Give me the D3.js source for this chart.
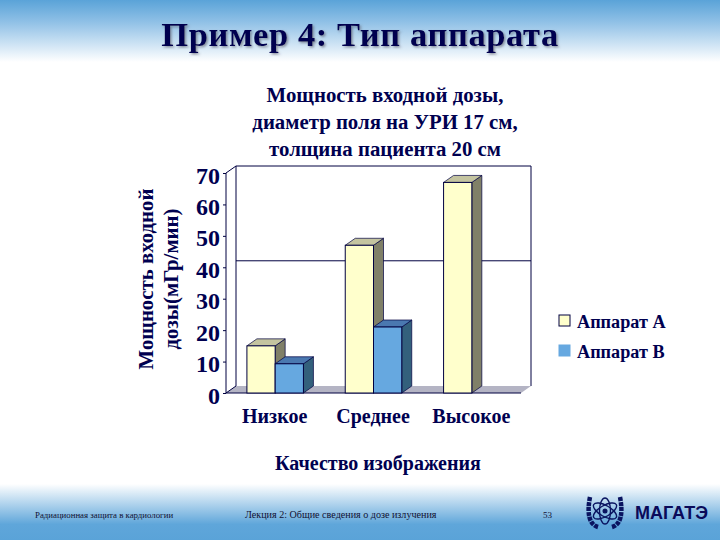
<!DOCTYPE html>
<html><head><meta charset="utf-8">
<script src="https://cdn.jsdelivr.net/npm/d3@7"></script>
<style>html,body{margin:0;padding:0;background:#fff}svg{display:block}text{font-family:"Liberation Serif",serif;font-weight:bold;fill:#000050}</style>
</head><body><div id="c"></div>
<script>
const categories = ["Низкое", "Среднее", "Высокое"];
const seriesNames = ["Аппарат А", "Аппарат В"];
const apparatA = [15, 47, 67];
const apparatB = [9.3, 21, null];
const gridValues = [40];
const yTicks = [0, 10, 20, 30, 40, 50, 60, 70];
const slideTitle = "Пример 4: Тип аппарата";
const chartTitle = ["Мощность входной дозы,", "диаметр поля на УРИ 17 см,", "толщина пациента 20 см"];
const yTitle = ["Мощность входной", "дозы(мГр/мин)"];
const xTitle = "Качество изображения";
const footer = ["Радиационная защита в кардиологии", "Лекция 2: Общие сведения о дозе излучения", "53"];
const orgName = "МАГАТЭ";

const W = 720, H = 540, dx = 10, dy = 7;
const svg = d3.select("#c").append("svg").attr("width", W).attr("height", H);
const defs = svg.append("defs");
function grad(id, stops) {
  const g = defs.append("linearGradient").attr("id", id).attr("x1", 0).attr("x2", 0).attr("y1", 0).attr("y2", 1);
  stops.forEach(s => g.append("stop").attr("offset", s[0]).attr("stop-color", s[1]));
}
grad("gt", [[0, "#5aa3d8"], [0.35, "#8fc0e6"], [1, "#ffffff"]]);
grad("gb", [[0, "#ffffff"], [0.72, "#5fa6da"], [1, "#5aa3d8"]]);
defs.append("filter").attr("id", "sh").attr("x", "-5%").attr("y", "-20%").attr("width", "110%").attr("height", "140%")
  .append("feDropShadow").attr("dx", 1.5).attr("dy", 1.5).attr("stdDeviation", 0.8).attr("flood-color", "#556").attr("flood-opacity", 0.6);

svg.append("rect").attr("width", W).attr("height", 62).attr("fill", "url(#gt)");
svg.append("rect").attr("y", 484).attr("width", W).attr("height", 56).attr("fill", "url(#gb)");

svg.append("text").attr("x", 360).attr("y", 46).attr("text-anchor", "middle").attr("font-size", 34.5)
  .attr("letter-spacing", 0.6).attr("filter", "url(#sh)").text(slideTitle);

svg.selectAll(".ct").data(chartTitle).join("text").attr("x", 385).attr("y", (d, i) => 102 + i * 27)
  .attr("text-anchor", "middle").attr("font-size", 20.8).text(d => d);

const y = d3.scaleLinear().domain([0, 70]).range([393, 173]);
const x0 = d3.scaleBand().domain(categories).range([226, 521]);
const x1 = d3.scaleBand().domain(seriesNames).range([0, x0.bandwidth()]).paddingOuter(0.74).paddingInner(0);

const line = "#000040";
const L = x0.range()[0], R = x0.range()[1];
const plot = svg.append("g");
plot.append("path").attr("d", `M${L},${y(0)}L${L + dx},${y(0) - dy}H${R + dx}L${R},${y(0)}Z`).attr("fill", "#b4b4c4");
plot.append("path").attr("fill", "none").attr("stroke", line).attr("stroke-width", 1)
  .attr("d", `M${L},${y(0)}V${y(70)}L${L + dx},${y(70) - dy}H${R + dx}V${y(0) - dy}M${L},${y(0)}L${L + dx},${y(0) - dy}V${y(70) - dy}M${L},${y(0)}H${R}`);
plot.selectAll(".g").data(gridValues).join("line")
  .attr("x1", L + dx).attr("x2", R + dx).attr("y1", d => y(d) - dy + 0.5).attr("y2", d => y(d) - dy + 0.5)
  .attr("stroke", line);

const yAxis = svg.append("g").attr("transform", `translate(${L},0)`)
  .call(d3.axisLeft(y).tickValues(yTicks).tickSize(3).tickPadding(3));
yAxis.select(".domain").remove();
yAxis.selectAll(".tick line").attr("stroke", line);
yAxis.selectAll("text").attr("font-size", 24).attr("dy", "0.42em").style("font-family", '"Liberation Serif",serif').style("font-weight", "bold").attr("fill", "#000050");

function bar3d(g, xp, w, v, front, top, side) {
  const yt = y(v), yb = y(0);
  g.append("path").attr("d", `M${xp + w},${yt}L${xp + w + dx},${yt - dy}V${yb - dy}L${xp + w},${yb}Z`).attr("fill", side).attr("stroke", line).attr("stroke-width", 0.7);
  g.append("path").attr("d", `M${xp},${yt}L${xp + dx},${yt - dy}H${xp + w + dx}L${xp + w},${yt}Z`).attr("fill", top).attr("stroke", line).attr("stroke-width", 0.7);
  g.append("rect").attr("x", xp).attr("y", yt).attr("width", w).attr("height", yb - yt).attr("fill", front).attr("stroke", line).attr("stroke-width", 1);
}
const bars = svg.append("g");
categories.forEach((c, i) => {
  bar3d(bars, x0(c) + x1(seriesNames[0]), x1.bandwidth(), apparatA[i], "#ffffcc", "#c4c4a0", "#808068");
  if (apparatB[i] != null) bar3d(bars, x0(c) + x1(seriesNames[1]), x1.bandwidth(), apparatB[i], "#66a8e0", "#4a78b0", "#33607c");
});

svg.selectAll(".xl").data(categories).join("text").attr("x", d => x0(d) + x0.bandwidth() / 2 - 0.5).attr("y", 423)
  .attr("text-anchor", "middle").attr("font-size", 20).text(d => d);
svg.append("text").attr("x", 378).attr("y", 470).attr("text-anchor", "middle").attr("font-size", 20).text(xTitle);

svg.selectAll(".yt").data(yTitle).join("text")
  .attr("transform", (d, i) => `translate(${153 + i * 25},279) rotate(-90)`)
  .attr("text-anchor", "middle").attr("font-size", 20.8).text(d => d);

const lg = svg.append("g");
const colors = ["#ffffcc", "#66a8e0"];
seriesNames.forEach((s, i) => {
  const yy = 315 + i * 30;
  lg.append("rect").attr("x", 559).attr("y", yy).attr("width", 11).attr("height", 11).attr("fill", colors[i]).attr("stroke", i ? "#66a8e0" : line);
  lg.append("text").attr("x", 577).attr("y", yy + 13).attr("font-size", 18.2).text(s);
});

const fx = [35, 245, 543], fs = [8.8, 10.1, 9];
footer.forEach((t, i) => svg.append("text").attr("x", fx[i]).attr("y", 518).attr("font-size", fs[i])
  .style("font-weight", "normal").style("fill", "#111133").text(t));
svg.append("text").attr("x", 635).attr("y", 519).attr("font-size", 18).style("font-family", '"Liberation Sans",sans-serif')
  .style("fill", "#0a0a5a").text(orgName);

const em = svg.append("g").attr("transform", "translate(605,511)").attr("fill", "none").attr("stroke", "#0a1460");
[-30, 30, 90].forEach(a => em.append("ellipse").attr("rx", 13).attr("ry", 5.5).attr("transform", `rotate(${a})`).attr("stroke-width", 1.4));
em.append("circle").attr("r", 2.5).attr("fill", "#0a1460").attr("stroke", "none");
[-1, 1].forEach(s => em.append("path").attr("d", `M${s * 7},16 Q${s * 20},12 ${s * 15},-14`).attr("stroke-width", 4.5).attr("stroke-dasharray", "4 1"));
</script></body></html>
